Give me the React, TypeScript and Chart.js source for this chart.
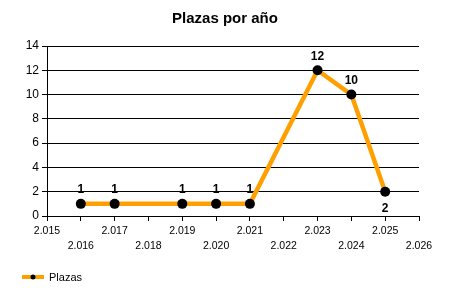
import React, { useEffect, useRef } from "react";
import { Chart, registerables } from "chart.js";

Chart.register(...registerables);

const years = [2016, 2017, 2019, 2020, 2021, 2023, 2024, 2025];
const plazas = [1, 1, 1, 1, 1, 12, 10, 2];
const seriesName = "Plazas";
const titleText = "Plazas por año";
const xMin = 2015;
const xMax = 2026;
const yMax = 14;
const yStep = 2;

const ORANGE = "#FFA000";
const FONT = "'Liberation Sans', Arial, sans-serif";

function fmtYear(v: number): string {
  const k = Math.floor(v / 1000);
  const r = String(Math.round(v) % 1000).padStart(3, "0");
  return `${k}.${r}`;
}

const customPlugin = {
  id: "customDraw",
  afterDatasetsDraw(chart: any) {
    const ctx = chart.ctx;
    const meta = chart.getDatasetMeta(0);
    ctx.save();
    ctx.font = `bold 12px ${FONT}`;
    ctx.fillStyle = "#000";
    ctx.textAlign = "center";
    ctx.textBaseline = "middle";
    const last = meta.data.length - 1;
    meta.data.forEach((pt: any, i: number) => {
      const below = i === last;
      ctx.fillText(String(plazas[i]), pt.x, pt.y + (below ? 17 : -14));
    });
    ctx.restore();
  },
  afterDraw(chart: any) {
    const ctx = chart.ctx;
    ctx.save();
    // title
    ctx.font = `bold 15px ${FONT}`;
    ctx.fillStyle = "#000";
    ctx.textAlign = "center";
    ctx.textBaseline = "middle";
    ctx.fillText(titleText, 225, 19);
    // legend
    ctx.strokeStyle = ORANGE;
    ctx.lineWidth = 4;
    ctx.beginPath();
    ctx.moveTo(22, 277);
    ctx.lineTo(44, 277);
    ctx.stroke();
    ctx.fillStyle = "#000";
    ctx.beginPath();
    ctx.arc(33, 277, 2.5, 0, Math.PI * 2);
    ctx.fill();
    ctx.font = `11px ${FONT}`;
    ctx.textAlign = "left";
    ctx.fillText(seriesName, 49, 278);
    ctx.restore();
  },
};

export default function App() {
  const ref = useRef<HTMLCanvasElement>(null);
  useEffect(() => {
    if (!ref.current) return;
    const chart = new Chart(ref.current, {
      type: "line",
      data: {
        datasets: [
          {
            label: seriesName,
            data: years.map((x, i) => ({ x, y: plazas[i] })),
            borderColor: ORANGE,
            backgroundColor: "#000",
            borderWidth: 4.5,
            pointRadius: 5,
            pointBackgroundColor: "#000",
            pointBorderColor: "#000",
            pointBorderWidth: 0,
            tension: 0,
            clip: false as any,
          },
        ],
      },
      options: {
        responsive: false,
        animation: false,
        layout: { padding: { left: 0, top: 46, right: 31, bottom: 44 } },
        plugins: {
          legend: { display: false },
          title: { display: false },
          tooltip: { enabled: false },
        },
        scales: {
          x: {
            type: "linear",
            min: xMin,
            max: xMax,
            afterFit: (s: any) => {
              s.height = 40;
            },
            afterBuildTicks: (s: any) => {
              const t = [];
              for (let v = xMin; v <= xMax; v++) t.push({ value: v });
              s.ticks = t;
            },
            ticks: {
              color: "#000",
              font: { family: FONT, size: 10.5, lineHeight: "15px" as any },
              padding: 3,
              maxRotation: 0,
              autoSkip: false,
              callback: (v: any) => {
                const n = Number(v);
                const lbl = fmtYear(n);
                return (n - xMin) % 2 === 0 ? [lbl, ""] : ["", lbl];
              },
            },
            grid: {
              drawOnChartArea: false,
              drawTicks: true,
              tickLength: 5,
              color: "#000",
            },
            border: { display: true, color: "#000", width: 1 },
          },
          y: {
            min: 0,
            max: yMax,
            afterFit: (s: any) => {
              s.width = 47;
            },
            ticks: {
              stepSize: yStep,
              color: "#000",
              font: { family: FONT, size: 12 },
              padding: 3,
            },
            grid: {
              color: "#000",
              drawTicks: true,
              tickLength: 5,
            },
            border: { display: true, color: "#000", width: 1 },
          },
        },
      },
      plugins: [customPlugin],
    });
    return () => chart.destroy();
  }, []);
  return (
    <div style={{ position: "fixed", left: 0, top: 0, width: 450, height: 300, background: "#fff" }}>
      <canvas ref={ref} width={450} height={300} style={{ width: 450, height: 300, display: "block" }} />
    </div>
  );
}
